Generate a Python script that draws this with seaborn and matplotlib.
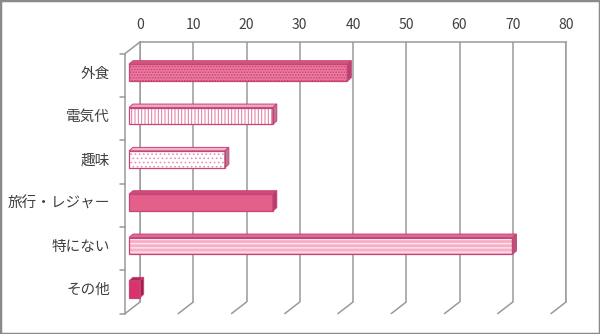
import matplotlib
matplotlib.use("Agg")
import matplotlib.pyplot as plt
from matplotlib.patches import Rectangle, Polygon
from matplotlib.transforms import ScaledTranslation
import seaborn as sns
import pandas as pd

# Survey answers and their values (%)
categories = ["外食", "電気代", "趣味", "旅行・レジャー", "特にない", "その他"]
values = [41, 27, 18, 27, 72, 2]
x_ticks = [0, 10, 20, 30, 40, 50, 60, 70, 80]

# Bar styling (front face, hatch, top face, side face)
face_colors = ["#EC7AA0", "#FFFFFF", "#FFFFFF", "#E2608A", "#F7AFC6", "#D8336A"]
hatches = ["......", "|||||", "....", "", "----", ""]
hatch_colors = ["#C9406F", "#E27A9E", "#E893B0", "#E2608A", "#FFFFFF", "#D8336A"]
top_colors = ["#D4557F", "#EBA9BF", "#ECB8C9", "#C94E78", "#D96D91", "#B82456"]
side_colors = ["#B8446C", "#B87890", "#A8848F", "#B03E66", "#B85478", "#A01E4A"]
edge_color = "#C8437A"
grid_color = "#9A9A9A"
text_color = "#404040"

sns.set_theme(style="white")
plt.rcParams["font.family"] = ["Noto Sans CJK JP", "DejaVu Sans"]
plt.rcParams["hatch.linewidth"] = 0.7

DPI = 100
fig = plt.figure(figsize=(6.0, 3.34), dpi=DPI)
# back wall of the pseudo-3D chart
AX_L, AX_B, AX_W, AX_H = 140, 32, 426, 260
ax = fig.add_axes([AX_L / 600, AX_B / 334, AX_W / 600, AX_H / 334])

df = pd.DataFrame({"item": categories, "value": values})
sns.barplot(data=df, x="value", y="item", order=categories, width=0.39,
            color="white", saturation=1, ax=ax)
ax.set_xlim(0, 80)
ax.set_ylim(len(categories) - 0.5, -0.5)
ax.set_xlabel("")
ax.set_ylabel("")

# pixel -> data conversions (y grows downward on this axis)
px_x = AX_W / 80.0
px_y = AX_H / len(categories)


def off(dx_px, dy_px):
    return dx_px / px_x, dy_px / px_y


face_dx, face_dy = off(-11, 9)       # bars sit in front of the back wall
depth_dx, depth_dy = off(4, -3.5)    # bar thickness going back
wall_dx, wall_dy = off(-15, 11.6)    # depth of the floor / side wall

# grid and top axis
ax.set_xticks(x_ticks)
ax.xaxis.tick_top()
ax.tick_params(axis="x", length=0, pad=7, labelsize=10, labelcolor=text_color)
ax.set_yticks([])
ax.grid(axis="x", color=grid_color, linewidth=1.1)
ax.grid(axis="y", visible=False)
ax.set_axisbelow(True)
for side in ["top", "left", "right"]:
    ax.spines[side].set_color(grid_color)
    ax.spines[side].set_linewidth(1.1)
ax.spines["bottom"].set_visible(False)

# extrude each bar into a box
for i, p in enumerate(ax.patches):
    x0 = p.get_x() + face_dx
    y0 = p.get_y() + face_dy
    w, h = p.get_width(), p.get_height()
    x1, y1 = x0 + w, y0 + h
    p.set_x(x0)
    p.set_y(y0)
    p.set_facecolor(face_colors[i])
    p.set_edgecolor(hatch_colors[i])
    p.set_linewidth(0)
    p.set_hatch(hatches[i])
    p.set_zorder(3)
    p.set_clip_on(False)
    ax.add_patch(Rectangle((x0, y0), w, h, fill=False, edgecolor=edge_color,
                           linewidth=0.9, zorder=4, clip_on=False))
    top = Polygon([(x0, y0), (x1, y0), (x1 + depth_dx, y0 + depth_dy),
                   (x0 + depth_dx, y0 + depth_dy)], closed=True,
                  facecolor=top_colors[i], edgecolor=edge_color,
                  linewidth=0.7, zorder=3, clip_on=False)
    right = Polygon([(x1, y0), (x1 + depth_dx, y0 + depth_dy),
                     (x1 + depth_dx, y1 + depth_dy), (x1, y1)], closed=True,
                    facecolor=side_colors[i], edgecolor=edge_color,
                    linewidth=0.7, zorder=3, clip_on=False)
    ax.add_patch(top)
    ax.add_patch(right)

# front-left axis with category ticks, plus floor diagonals
y_top, y_bot = -0.5, len(categories) - 0.5
line_kw = dict(color=grid_color, linewidth=1.1, clip_on=False, zorder=2)
ax.plot([wall_dx, wall_dx], [y_top + wall_dy, y_bot + wall_dy], **line_kw)
ax.plot([0, wall_dx], [y_top, y_top + wall_dy], **line_kw)
for t in x_ticks:
    ax.plot([t, t + wall_dx], [y_bot, y_bot + wall_dy], **line_kw)
tick_len = 5 / px_x
for k in range(len(categories) + 1):
    b = y_top + k + wall_dy
    ax.plot([wall_dx - tick_len, wall_dx], [b, b], **line_kw)

# category labels in front of the side wall
label_tr = ax.transData + ScaledTranslation(-30 / DPI, -10 / DPI,
                                            fig.dpi_scale_trans)
for i, name in enumerate(categories):
    ax.text(0, i, name, transform=label_tr, ha="right", va="center",
            fontsize=10.5, color=text_color, clip_on=False)

# outer frame
fig.add_artist(Rectangle((0, 0), 1, 1, transform=fig.transFigure, fill=False,
                         edgecolor="#8a8a8a", linewidth=2.5))

fig.savefig("out.png", dpi=DPI, facecolor="white")
